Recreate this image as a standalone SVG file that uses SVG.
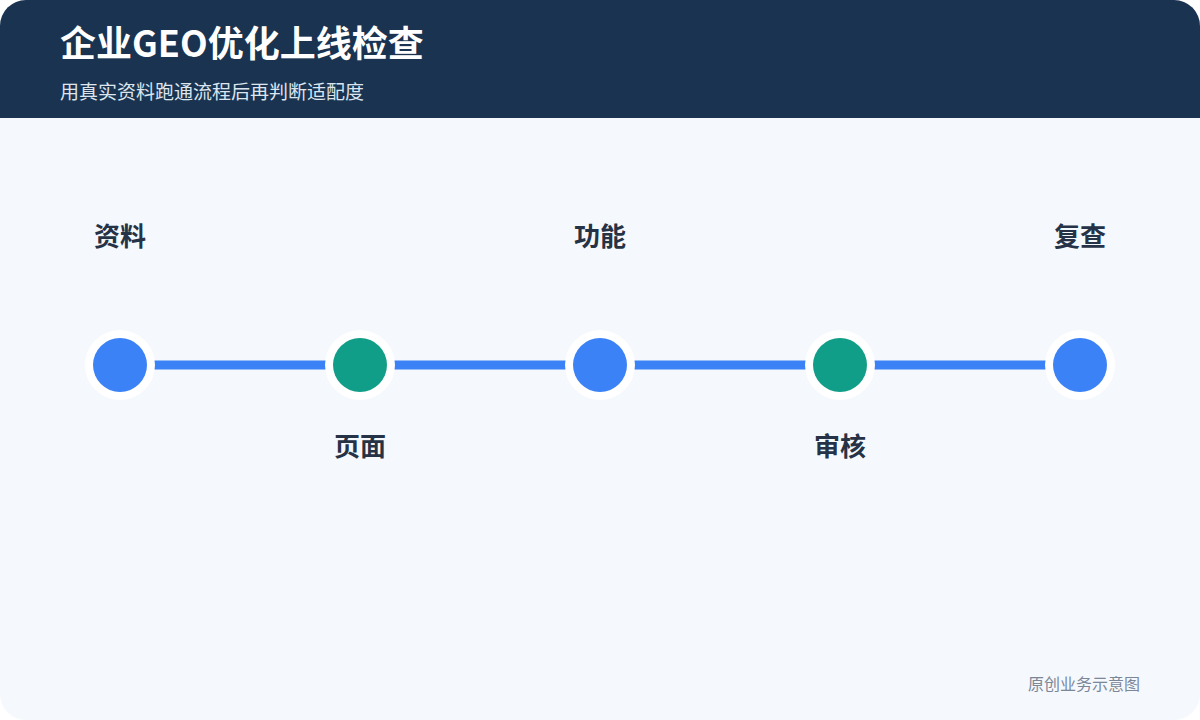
<svg xmlns="http://www.w3.org/2000/svg" width="1200" height="720" viewBox="0 0 1200 720">
<defs>
<clipPath id="card"><rect x="0" y="0" width="1200" height="720" rx="26" ry="26"/></clipPath>
<style>
.t{font-family:"Noto Sans CJK SC","Noto Sans",sans-serif}
.lbl{font-family:"Noto Sans CJK SC","Noto Sans",sans-serif;font-size:26px;font-weight:700;fill:#263245;text-anchor:middle}
.ring{fill:#ffffff}
.blue{fill:#3b82f6}
.green{fill:#119e89}
</style>
</defs>
<rect width="1200" height="720" fill="#ffffff"/>
<g clip-path="url(#card)">
<rect x="0" y="0" width="1200" height="720" fill="#f5f8fd"/>
<rect x="0" y="0" width="1200" height="118" fill="#193350"/>
</g>
<text class="t" x="60" y="57" font-size="36" font-weight="700" fill="#ffffff">企业GEO优化上线检查</text>
<text class="t" x="60" y="99" font-size="19" fill="#dde5ef">用真实资料跑通流程后再判断适配度</text>
<g id="connectors">
<line x1="120" y1="365" x2="1080" y2="365" stroke="#3b82f6" stroke-width="9"/>
</g>
<g id="node1"><circle class="ring" cx="120" cy="365" r="35"/><circle class="blue" cx="120" cy="365" r="27"/><text class="lbl" x="120" y="246">资料</text></g>
<g id="node2"><circle class="ring" cx="360" cy="365" r="35"/><circle class="green" cx="360" cy="365" r="27"/><text class="lbl" x="360" y="456">页面</text></g>
<g id="node3"><circle class="ring" cx="600" cy="365" r="35"/><circle class="blue" cx="600" cy="365" r="27"/><text class="lbl" x="600" y="246">功能</text></g>
<g id="node4"><circle class="ring" cx="840" cy="365" r="35"/><circle class="green" cx="840" cy="365" r="27"/><text class="lbl" x="840" y="456">审核</text></g>
<g id="node5"><circle class="ring" cx="1080" cy="365" r="35"/><circle class="blue" cx="1080" cy="365" r="27"/><text class="lbl" x="1080" y="246">复查</text></g>
<text class="t" x="1140" y="690" font-size="16" fill="#7b8799" text-anchor="end">原创业务示意图</text>
</svg>
